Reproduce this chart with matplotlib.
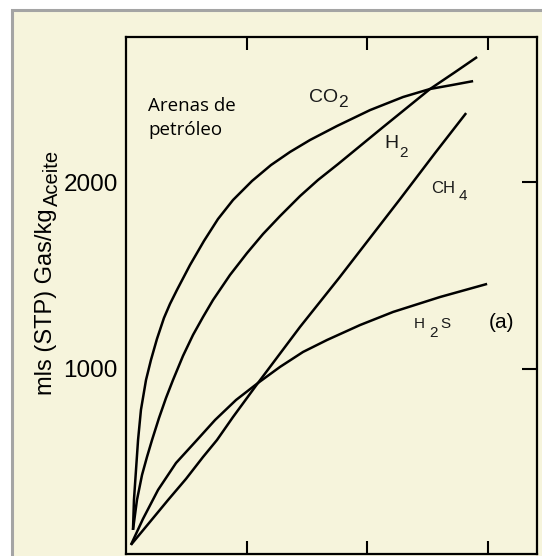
# plot.py - gas released from oil sands, panel (a)
import matplotlib
matplotlib.use("Agg")
import matplotlib.pyplot as plt
from matplotlib.patches import Rectangle

# === 1. Data ===
co2_x = [0.058, 0.066, 0.083, 0.100, 0.124, 0.166, 0.207, 0.257, 0.315, 0.365, 0.423,
         0.531, 0.647, 0.763, 0.888, 1.046, 1.203, 1.361, 1.527, 1.751, 2.025, 2.299,
         2.523, 2.705, 2.880]
co2_y = [139, 299, 460, 620, 781, 941, 1048, 1161, 1273, 1348, 1423,
         1556, 1685, 1802, 1904, 2006, 2091, 2161, 2225, 2300, 2385, 2455,
         2498, 2519, 2540]

h2_x = [0.058, 0.091, 0.133, 0.174, 0.216, 0.274, 0.332, 0.390, 0.473, 0.556, 0.639,
        0.722, 0.863, 1.004, 1.137, 1.278, 1.444, 1.593, 1.759, 2.133, 2.307, 2.523,
        2.730, 2.913]
h2_y = [139, 299, 433, 529, 620, 738, 845, 941, 1070, 1182, 1278,
        1369, 1503, 1620, 1722, 1818, 1925, 2011, 2096, 2294, 2385, 2498,
        2588, 2669]

ch4_x = [0.041, 0.199, 0.349, 0.498, 0.639, 0.755, 0.888, 1.095, 1.444, 1.768, 1.967,
         2.274, 2.564, 2.822]
ch4_y = [59, 182, 299, 412, 529, 620, 743, 925, 1225, 1487, 1653, 1909, 2155, 2369]

h2s_x = [0.041, 0.141, 0.266, 0.415, 0.589, 0.739, 0.913, 1.095, 1.278, 1.469, 1.668,
         1.942, 2.216, 2.606, 2.996]
h2s_y = [59, 198, 353, 497, 620, 727, 834, 925, 1011, 1091, 1155, 1235, 1305, 1385, 1455]

y_ticks = [1000, 2000]
x_ticks = [1, 2, 3]

BG = "#f6f4dc"
FRAME = "#a4a4a4"

# === 2. Figure ===
fig = plt.figure(figsize=(5.42, 5.56), dpi=100)
fig.patch.set_facecolor("white")

# beige panel with grey frame (runs off the right/bottom edge)
fig.patches.append(Rectangle((12 / 542, -0.1), 1.2, (556 - 10) / 556 + 0.1,
                             transform=fig.transFigure, facecolor=BG,
                             edgecolor=FRAME, linewidth=2.2, zorder=-10))

ax = fig.add_axes([126 / 542, 2 / 556, (537 - 126) / 542, (554 - 37) / 556])
ax.patch.set_visible(False)

for xs, ys in [(co2_x, co2_y), (h2_x, h2_y), (ch4_x, ch4_y), (h2s_x, h2s_y)]:
    ax.plot(xs, ys, color="black", lw=1.8, solid_capstyle="butt",
            solid_joinstyle="round")

ax.set_xlim(0, 3.41)
ax.set_ylim(10, 2776)

for s in ax.spines.values():
    s.set_linewidth(1.6)

ax.set_xticks(x_ticks)
ax.tick_params(axis="x", direction="in", top=True, bottom=True, length=9.5,
               width=1.5, labelbottom=False)
ax.set_yticks(y_ticks)
ax.set_yticklabels([str(v) for v in y_ticks], family="Liberation Sans",
                   fontsize=17.5)
ax.tick_params(axis="y", direction="in", left=False, right=True, length=11,
               width=1.5, pad=6)

# y label, "Aceite" a touch smaller and lower
fig.text(52 / 542, 1 - 395 / 556, "mls (STP) Gas/kg", rotation=90,
         rotation_mode="anchor", ha="left", va="baseline",
         family="Liberation Sans", fontsize=17)
fig.text(58 / 542, 1 - 206 / 556, "Aceite", rotation=90,
         rotation_mode="anchor", ha="left", va="baseline",
         family="Liberation Sans", fontsize=14.5)

# annotations
ax.text(0.183, 2380, "Arenas de", family="Open Sans", fontsize=13.5, va="baseline")
ax.text(0.183, 2251, "petróleo", family="Open Sans", fontsize=13.5, va="baseline")

lab = dict(family="Liberation Sans", va="baseline", color="#1a1a1a")
ax.text(1.519, 2428, "CO", fontsize=14, **lab)
ax.text(1.759, 2400, "2", fontsize=12.5, **lab)
ax.text(2.141, 2182, "H", fontsize=14, **lab)
ax.text(2.266, 2134, "2", fontsize=11, **lab)
ax.text(2.531, 1941, "CH", fontsize=12, **lab)
ax.text(2.763, 1904, "4", fontsize=11, **lab)
ax.text(2.390, 1219, "H", fontsize=11, **lab)
ax.text(2.515, 1171, "2", fontsize=11, **lab)
ax.text(2.606, 1219, "S", fontsize=11, **lab)
ax.text(3.012, 1246, "(a)", fontsize=15, va="center", family="Liberation Sans")

fig.savefig("out.png", dpi=100, facecolor=fig.get_facecolor())
